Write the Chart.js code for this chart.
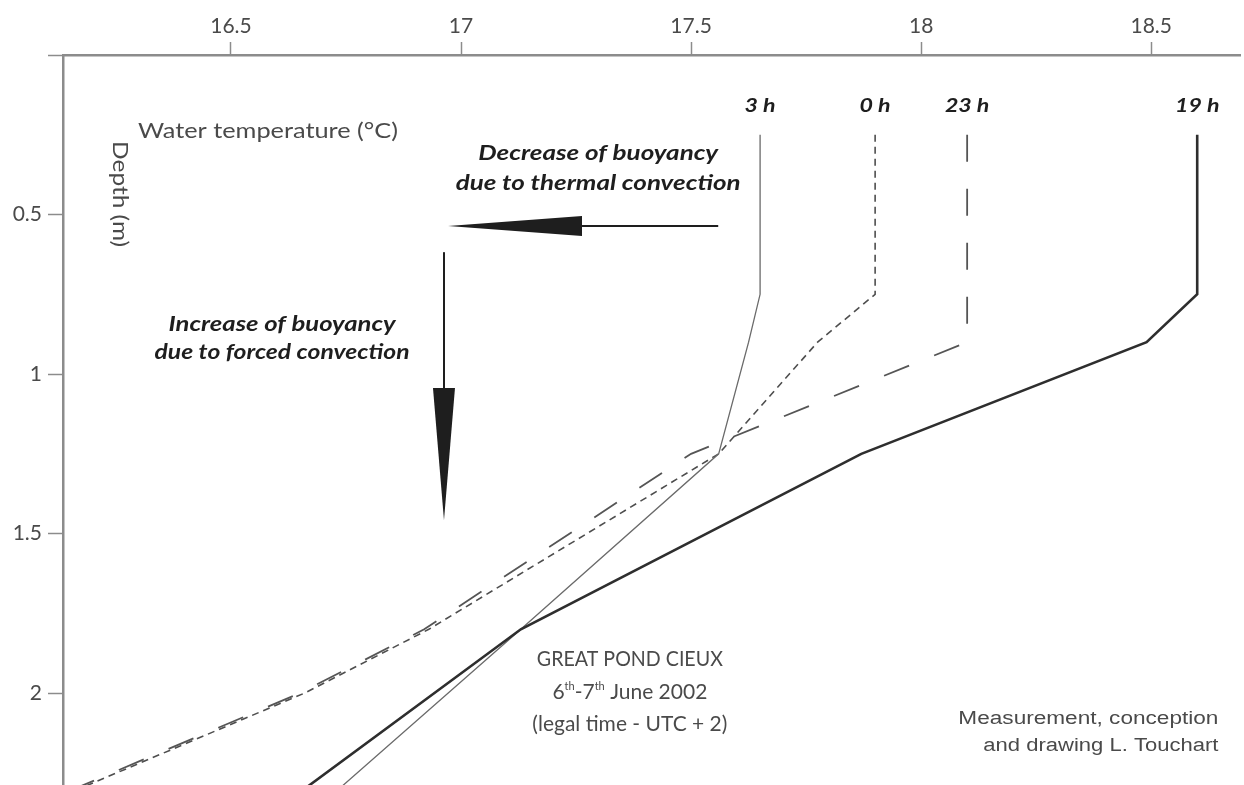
<!DOCTYPE html>
<html>
<head>
<meta charset="utf-8">
<script src="https://cdn.jsdelivr.net/npm/chart.js@4.4.1/dist/chart.umd.min.js"></script>
<style>
  html, body { margin: 0; padding: 0; background: #fff; }
  canvas { display: block; }
</style>
</head>
<body>
<canvas id="profile" width="1244" height="785"></canvas>
<script>
// depth (m) / water temperature (°C) profiles, Great Pond Cieux, 6-7 June 2002
const depth19 = [0.25, 0.75, 0.9, 1.25, 1.8, 2.3];
const temp19  = [18.6, 18.6, 18.49, 17.87, 17.13, 16.66];

const depth3 = [0.25, 0.75, 0.9, 1.25, 1.8, 2.3];
const temp3  = [17.65, 17.65, 17.625, 17.56, 17.13, 16.735];

const depth0 = [0.25, 0.75, 0.9, 1.25, 1.8, 2.0, 2.3];
const temp0  = [17.9, 17.9, 17.775, 17.56, 16.93, 16.66, 16.17];

const depth23 = [0.25, 0.75, 0.9, 1.25, 1.8, 2.0, 2.3];
const temp23  = [18.1, 18.1, 18.1, 17.5, 16.92, 16.65, 16.16];

const seriesLabels = ['19 h', '3 h', '0 h', '23 h'];
const tempTicks = [16.5, 17, 17.5, 18, 18.5];
const depthTicks = [0, 0.5, 1, 1.5, 2];

const toPoints = (temps, depths) => temps.map((t, i) => ({ x: t, y: depths[i] }));

const plainFont = 'Lato, "Open Sans", sans-serif';
const textGrey = '#4a4a4a';
const axisGrey = '#8c8c8c';

// draws text squeezed/stretched horizontally to a given width
function fitText(ctx, text, x, y, width, align) {
  const w = ctx.measureText(text).width;
  ctx.save();
  ctx.translate(x, y);
  ctx.scale(width / w, 1);
  ctx.textAlign = align || 'center';
  ctx.fillText(text, 0, 0);
  ctx.restore();
}

const notesPlugin = {
  id: 'notes',
  afterDraw: (chart) => {
    const { ctx, scales } = chart;
    const px = (t) => scales.x.getPixelForValue(t);
    const py = (d) => scales.y.getPixelForValue(d);

    ctx.save();
    ctx.textBaseline = 'middle';

    // series names above each profile
    ctx.fillStyle = '#1e1e1e';
    ctx.font = 'italic bold 19px ' + plainFont;
    chart.data.datasets.forEach((ds) => {
      const top = ds.data[0];
      const w = ctx.measureText(ds.label).width * 1.22;
      fitText(ctx, ds.label, px(top.x), py(top.y) - 29, w, 'center');
    });

    // axis titles
    ctx.fillStyle = textGrey;
    ctx.font = '21px ' + plainFont;
    fitText(ctx, 'Water temperature (°C)', px(16.298), py(0.238), 260, 'left');

    ctx.save();
    ctx.translate(px(16.259), py(0.436));
    ctx.rotate(Math.PI / 2);
    fitText(ctx, 'Depth (m)', 0, 0, 106, 'center');
    ctx.restore();

    // arrow captions
    ctx.fillStyle = '#1e1e1e';
    ctx.font = 'italic bold 20px ' + plainFont;
    fitText(ctx, 'Decrease of buoyancy', px(17.298), py(0.31), 240, 'center');
    fitText(ctx, 'due to thermal convection', px(17.298), py(0.404), 285, 'center');
    fitText(ctx, 'Increase of buoyancy', px(16.611), py(0.846), 227, 'center');
    fitText(ctx, 'due to forced convection', px(16.611), py(0.934), 255, 'center');

    // horizontal arrow
    ctx.strokeStyle = '#1e1e1e';
    ctx.lineWidth = 2;
    const hy = py(0.536);
    ctx.beginPath();
    ctx.moveTo(px(17.559), hy);
    ctx.lineTo(px(17.263), hy);
    ctx.stroke();
    ctx.beginPath();
    ctx.moveTo(px(17.263), hy - 10);
    ctx.lineTo(px(16.972), hy);
    ctx.lineTo(px(17.263), hy + 10);
    ctx.closePath();
    ctx.fill();

    // vertical arrow
    const vx = px(16.963);
    ctx.beginPath();
    ctx.moveTo(vx, py(0.618));
    ctx.lineTo(vx, py(1.044));
    ctx.stroke();
    ctx.beginPath();
    ctx.moveTo(vx - 11, py(1.044));
    ctx.lineTo(vx, py(1.458));
    ctx.lineTo(vx + 11, py(1.044));
    ctx.closePath();
    ctx.fill();

    // site caption with superscripts
    ctx.fillStyle = textGrey;
    ctx.font = '21px ' + plainFont;
    const cx = px(17.367);
    fitText(ctx, 'GREAT POND CIEUX', cx, py(1.893), 186, 'center');
    fitText(ctx, '(legal time - UTC + 2)', cx, py(2.097), 195, 'center');

    const parts = [['6', false], ['th', true], ['-7', false], ['th', true], [' June 2002', false]];
    const big = '21px ' + plainFont;
    const small = '11px ' + plainFont;
    let total = 0;
    parts.forEach(([s, sup]) => { ctx.font = sup ? small : big; total += ctx.measureText(s).width; });
    let xx = cx - total / 2;
    const ly = py(1.997);
    ctx.textAlign = 'left';
    parts.forEach(([s, sup]) => {
      ctx.font = sup ? small : big;
      ctx.fillText(s, xx, sup ? ly - 6 : ly);
      xx += ctx.measureText(s).width;
    });

    // credits
    ctx.font = '18px "Liberation Sans", Arial, sans-serif';
    fitText(ctx, 'Measurement, conception', px(18.646), py(2.082), 260, 'right');
    fitText(ctx, 'and drawing L. Touchart', px(18.646), py(2.166), 235, 'right');

    ctx.restore();
  }
};

const canvas = document.getElementById('profile');
const ctx = canvas.getContext('2d');

new Chart(ctx, {
  type: 'scatter',
  data: {
    datasets: [
      {
        label: seriesLabels[0],
        data: toPoints(temp19, depth19),
        borderColor: '#2e2e2e',
        borderWidth: 2.6
      },
      {
        label: seriesLabels[1],
        data: toPoints(temp3, depth3),
        borderColor: '#6a6a6a',
        borderWidth: 1.3
      },
      {
        label: seriesLabels[2],
        data: toPoints(temp0, depth0),
        borderColor: '#4e4e4e',
        borderWidth: 1.6,
        borderDash: [7, 5]
      },
      {
        label: seriesLabels[3],
        data: toPoints(temp23, depth23),
        borderColor: '#555555',
        borderWidth: 1.8,
        borderDash: [27, 27]
      }
    ]
  },
  options: {
    responsive: false,
    animation: false,
    showLine: true,
    elements: {
      point: { radius: 0, hoverRadius: 0 },
      line: { tension: 0, fill: false }
    },
    layout: { padding: { top: 0, left: 0, right: 4, bottom: 0 } },
    plugins: {
      legend: { display: false },
      tooltip: { enabled: false }
    },
    scales: {
      x: {
        type: 'linear',
        position: 'top',
        min: 16.135,
        max: 18.693,
        afterBuildTicks: (scale) => { scale.ticks = tempTicks.map((v) => ({ value: v })); },
        afterFit: (scale) => {
          scale.height = 55;
          scale.paddingLeft = 0;
          scale.paddingRight = 0;
        },
        grid: {
          drawOnChartArea: false,
          drawTicks: true,
          tickLength: 13,
          tickColor: axisGrey,
          tickWidth: 1.5
        },
        border: { display: true, color: axisGrey, width: 2.5 },
        ticks: {
          autoSkip: false,
          padding: 3,
          color: textGrey,
          font: { family: plainFont, size: 21 },
          callback: (v) => String(v)
        }
      },
      y: {
        type: 'linear',
        position: 'left',
        reverse: true,
        min: 0,
        max: 2.288,
        afterBuildTicks: (scale) => { scale.ticks = depthTicks.map((v) => ({ value: v })); },
        afterFit: (scale) => {
          scale.width = 63;
          scale.paddingTop = 0;
          scale.paddingBottom = 0;
        },
        grid: {
          drawOnChartArea: false,
          drawTicks: true,
          tickLength: 15,
          tickColor: axisGrey,
          tickWidth: 1.5
        },
        border: { display: true, color: axisGrey, width: 2.5 },
        ticks: {
          autoSkip: false,
          padding: 6,
          color: textGrey,
          font: { family: plainFont, size: 21 },
          callback: (v) => (v === 0 ? '' : String(v))
        }
      }
    }
  },
  plugins: [notesPlugin]
});
</script>
</body>
</html>
